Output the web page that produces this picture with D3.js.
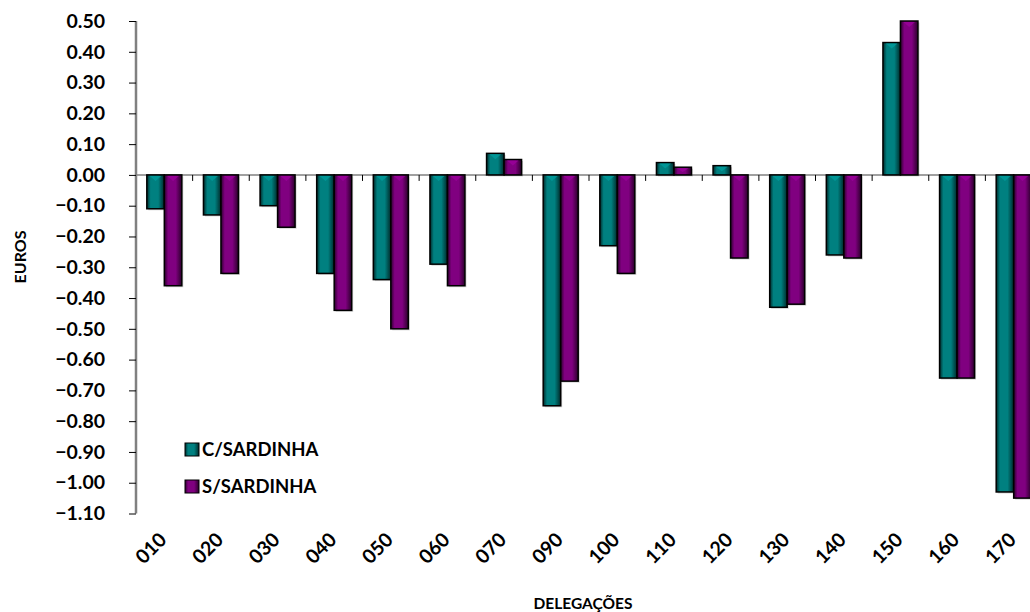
<!DOCTYPE html>
<html><head><meta charset="utf-8">
<script src="https://cdn.jsdelivr.net/npm/d3@7/dist/d3.min.js"></script>
<style>
html,body{margin:0;padding:0;background:#fff;}
text{font-family:Lato,"Open Sans",sans-serif;font-weight:bold;fill:#000;}
</style></head>
<body><svg id="chart" width="1030" height="612"></svg>
<script>
const categories = ["010","020","030","040","050","060","070","090","100","110","120","130","140","150","160","170"];
const seriesNames = ["C/SARDINHA","S/SARDINHA"];
const cSardinha = [-0.11,-0.13,-0.10,-0.32,-0.34,-0.29,0.07,-0.75,-0.23,0.04,0.03,-0.43,-0.26,0.43,-0.66,-1.03];
const sSardinha = [-0.36,-0.32,-0.17,-0.44,-0.50,-0.36,0.05,-0.67,-0.32,0.025,-0.27,-0.42,-0.27,0.50,-0.66,-1.05];
const yTicks = [0.5,0.4,0.3,0.2,0.1,0,-0.1,-0.2,-0.3,-0.4,-0.5,-0.6,-0.7,-0.8,-0.9,-1.0,-1.1];
const colors = ["#008080","#800080"];
const darks = ["#002a2a","#2a002a"];

const svg = d3.select("#chart");
const mLeft = 136, mRight = 1042, mTop = 21, mBottom = 513.5;
const x0 = d3.scaleBand().domain(categories).range([mLeft, mRight]).padding(0);
const groupW = 35;
const x1 = d3.scaleBand().domain(seriesNames).range([0, groupW]).padding(0);
const y = d3.scaleLinear().domain([-1.1, 0.5]).range([mBottom, mTop]);

const defs = svg.append("defs");
colors.forEach((c,i)=>{
  const g = defs.append("linearGradient").attr("id","g"+i).attr("x1","0").attr("x2","1").attr("y1","0").attr("y2","0");
  g.append("stop").attr("offset","0").attr("stop-color",darks[i]);
  g.append("stop").attr("offset","0.22").attr("stop-color",c);
  g.append("stop").attr("offset","0.65").attr("stop-color",c);
  g.append("stop").attr("offset","1").attr("stop-color",darks[i]);
});

// zero line
svg.append("line").attr("x1",mLeft).attr("x2",1030).attr("y1",y(0)).attr("y2",y(0))
  .attr("stroke","#808080").attr("stroke-width",1.5);
// x ticks on zero line
svg.append("g").selectAll("line").data(categories.concat(["end"])).join("line")
  .attr("x1",(d,i)=> mLeft + i*x0.bandwidth()).attr("x2",(d,i)=> mLeft + i*x0.bandwidth())
  .attr("y1",y(0)).attr("y2",y(0)+6).attr("stroke","#000").attr("stroke-width",1);

const data = [cSardinha, sSardinha];
const groups = svg.append("g").selectAll("g").data(categories).join("g")
  .attr("transform", d => `translate(${x0(d) + (x0.bandwidth()-groupW)/2},0)`);
groups.each(function(cat, ci){
  const g = d3.select(this);
  seriesNames.forEach((s, si)=>{
    const v = data[si][ci];
    const bx = x1(s), bw = x1.bandwidth();
    const y0 = y(0), yv = y(v);
    const ytop = Math.min(y0,yv), h = Math.abs(yv-y0);
    g.append("rect").attr("x",bx+1.5).attr("y",ytop+1.5).attr("width",bw).attr("height",h)
      .attr("fill","#000").attr("opacity",0.18);
    g.append("rect").attr("x",bx).attr("y",ytop).attr("width",bw).attr("height",h)
      .attr("fill",`url(#g${si})`).attr("stroke","#000").attr("stroke-width",1.5);
    const tH = Math.min(5, h/2);
    const baseY = v < 0 ? y0 + 1 : yv + 1;
    g.append("path").attr("d",`M${bx+3},${baseY}L${bx+bw-3},${baseY}L${bx+bw/2},${baseY+tH}Z`)
      .attr("fill", d3.color(colors[si]).brighter(0.6)).attr("opacity",0.7);
  });
});

// y axis
const yAxis = d3.axisLeft(y).tickValues(yTicks).tickFormat(d3.format(".2f")).tickSize(7).tickPadding(24);
const ya = svg.append("g").attr("transform",`translate(${mLeft},0)`).call(yAxis);
ya.select(".domain").attr("stroke","#808080").attr("stroke-width",2.5).attr("d",`M0,${mTop}V${mBottom}`);
ya.selectAll(".tick line").attr("stroke","#000");
ya.selectAll(".tick text").style("font-size","19.5px").style("font-family","Lato,'Open Sans',sans-serif").style("font-weight","bold").attr("fill","#000");

// x labels
const xa = svg.append("g");
xa.selectAll("text").data(categories).join("text")
  .attr("transform", d => `translate(${x0(d)+x0.bandwidth()/2+3.5},${541}) rotate(-45)`)
  .attr("text-anchor","end").style("font-size","19.5px").text(d=>d);

// axis titles
svg.append("text").attr("x",583).attr("y",609).attr("text-anchor","middle").style("font-size","15.5px").text("DELEGAÇÕES");
svg.append("text").attr("transform","translate(26,257) rotate(-90)").attr("text-anchor","middle").style("font-size","16px").text("EUROS");

// legend
const leg = svg.append("g");
seriesNames.forEach((s,i)=>{
  const ly = 443 + i*37;
  leg.append("rect").attr("x",185).attr("y",ly).attr("width",14).attr("height",13)
    .attr("fill",`url(#g${i})`).attr("stroke","#000").attr("stroke-width",1);
  leg.append("text").attr("x",202).attr("y",ly+13).style("font-size","18.5px").text(s);
});
</script></body></html>
